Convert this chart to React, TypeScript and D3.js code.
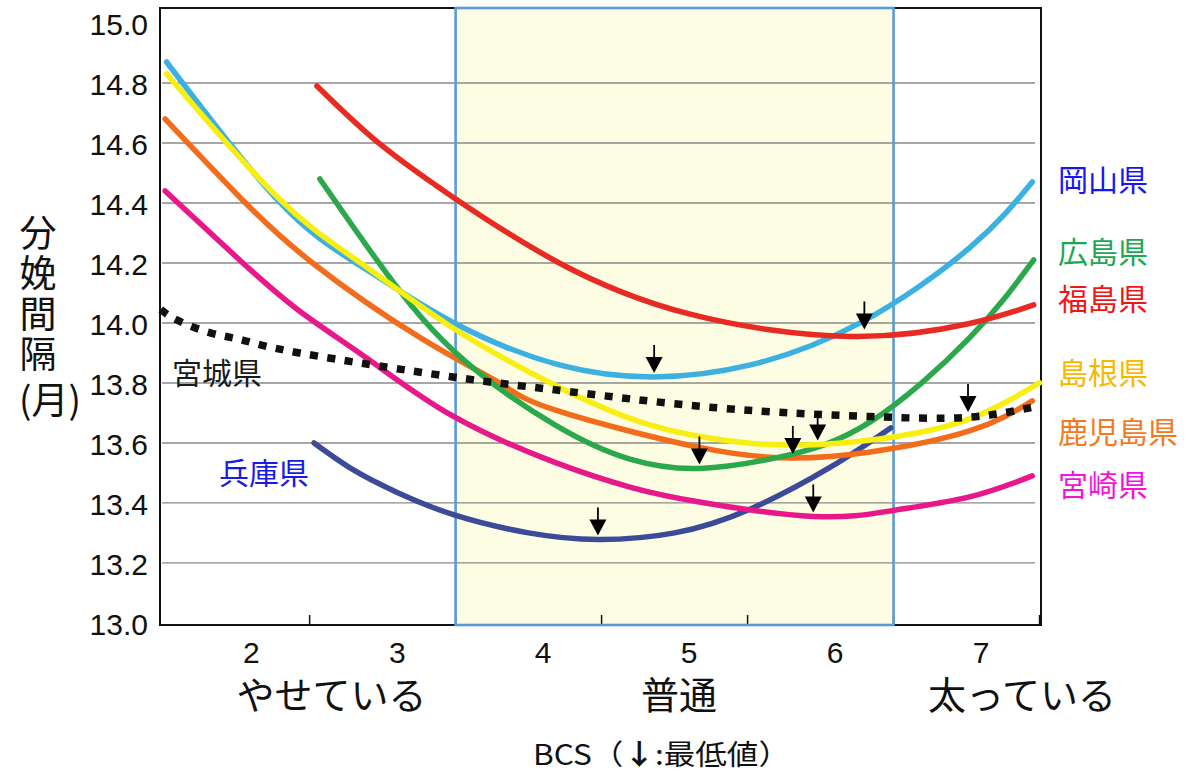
import React from "react";
import * as d3 from "d3";

// BCS vs calving interval (months)
const okayama = [[1.42, 14.87], [2.2, 14.4], [2.75, 14.19], [3.39, 14.0], [4.11, 13.86], [4.76, 13.82], [5.42, 13.86], [6.17, 14.0], [6.92, 14.25], [7.35, 14.47]];
const hiroshima = [[2.47, 14.48], [2.86, 14.21], [3.38, 13.91], [4.08, 13.66], [4.6, 13.545], [5.07, 13.515], [5.64, 13.555], [6.24, 13.67], [6.92, 13.95], [7.36, 14.21]];
const fukushima = [[2.45, 14.79], [2.86, 14.605], [3.38, 14.42], [4.11, 14.2], [5.0, 14.03], [6.1, 13.955], [6.92, 13.998], [7.36, 14.06]];
const shimane = [[1.42, 14.83], [2.2, 14.41], [2.75, 14.2], [3.36, 13.99], [4.05, 13.8], [4.73, 13.66], [5.4, 13.6], [5.9, 13.595], [6.4, 13.62], [6.92, 13.68], [7.4, 13.8]];
const kagoshima = [[1.41, 14.68], [1.92, 14.42], [2.42, 14.2], [3.16, 13.95], [3.7, 13.8], [4.08, 13.71], [5.07, 13.585], [5.71, 13.55], [6.24, 13.57], [6.92, 13.64], [7.35, 13.74]];
const miyazaki = [[1.41, 14.44], [1.92, 14.21], [2.33, 14.04], [2.8, 13.88], [3.38, 13.69], [4.08, 13.535], [4.6, 13.452], [5.07, 13.403], [5.85, 13.355], [6.4, 13.375], [6.92, 13.42], [7.35, 13.49]];
const hyogo = [[2.43, 13.6], [2.7, 13.51], [3.0, 13.435], [3.39, 13.36], [3.9, 13.3], [4.375, 13.278], [4.9, 13.3], [5.42, 13.38], [5.97, 13.52], [6.38, 13.65]];
const miyagi = [[1.38, 14.045], [1.49, 14.01], [1.72, 13.967], [1.94, 13.943], [2.33, 13.9], [3.38, 13.82], [4.08, 13.777], [5.19, 13.717], [6.24, 13.688], [6.9, 13.685], [7.36, 13.72]];

// arrow markers (lowest point of each curve)
const minima = [[4.76, 13.82], [6.2, 13.965], [5.07, 13.515], [5.71, 13.55], [5.88, 13.595], [5.85, 13.355], [4.375, 13.278], [6.91, 13.69]];

const bcsLabels = [2, 3, 4, 5, 6, 7];
const bcsTicks = [2.4, 3.4, 4.4, 5.4, 6.4, 7.4];
const yLabels = [13.0, 13.2, 13.4, 13.6, 13.8, 14.0, 14.2, 14.4, 14.6, 14.8, 15.0];
const gridValues = [13.2, 13.4, 13.6, 13.8, 14.0, 14.2, 14.4, 14.6, 14.8];
const normalRange = [3.4, 6.4];
const bodyTypes = ["やせている", "普通", "太っている"];

const W = 1198;
const H = 772;

const App = () => {
  const x = d3.scaleLinear().domain([1.375, 7.41]).range([160, 1041]);
  const y = d3.scaleLinear().domain([12.993, 15.05]).range([625, 8]);

  const line = d3
    .line<number[]>()
    .x((d) => x(d[0]))
    .y((d) => y(d[1]))
    .curve(d3.curveNatural);

  const curves = [
    { data: hyogo, color: "#3c4a9a" },
    { data: miyazaki, color: "#e8188a" },
    { data: kagoshima, color: "#f26c1c" },
    { data: hiroshima, color: "#2ca84c" },
    { data: okayama, color: "#3cb0e0" },
    { data: fukushima, color: "#e82a22" },
    { data: shimane, color: "#f8ee10" },
  ];

  const labels = [
    { text: "岡山県", x: 1058, y: 178, color: "#1515f5" },
    { text: "広島県", x: 1058, y: 250, color: "#19a94f" },
    { text: "福島県", x: 1058, y: 297, color: "#f01515" },
    { text: "島根県", x: 1058, y: 371, color: "#f6b800" },
    { text: "鹿児島県", x: 1058, y: 430, color: "#f47a1f" },
    { text: "宮崎県", x: 1058, y: 483, color: "#f511d9" },
    { text: "宮城県", x: 172, y: 371, color: "#1a1a1a" },
    { text: "兵庫県", x: 219, y: 471, color: "#1a1ae6" },
  ];

  const jp = "'Noto Sans CJK JP', sans-serif";
  const num = "'Liberation Sans', Arial, sans-serif";

  const top = y(15.05);
  const bottom = y(12.993);
  const left = x(1.375);
  const right = x(7.41);

  const bodyX = [x(2.55), x(4.93), x(7.28)];

  return (
    <div style={{ position: "absolute", left: 0, top: 0 }}>
      <svg width={W} height={H} style={{ display: "block", background: "#fff" }}>
        {/* normal BCS band */}
        <rect
          x={x(normalRange[0])}
          y={top}
          width={x(normalRange[1]) - x(normalRange[0])}
          height={bottom - top}
          fill="#fdfde4"
        />

        {gridValues.map((v) => (
          <line key={v} x1={left + 2} x2={right - 6} y1={y(v)} y2={y(v)} stroke="#8a8a8a" strokeWidth={1.4} />
        ))}

        {/* frame */}
        <rect x={left} y={top} width={right - left} height={bottom - top} fill="none" stroke="#111" strokeWidth={2} />
        {bcsTicks.map((t) => (
          <line key={t} x1={x(t)} x2={x(t)} y1={bottom} y2={bottom - 10} stroke="#111" strokeWidth={1.5} />
        ))}

        <rect
          x={x(normalRange[0])}
          y={top}
          width={x(normalRange[1]) - x(normalRange[0])}
          height={bottom - top}
          fill="none"
          stroke="#5b9bd5"
          strokeWidth={2.6}
        />

        {curves.map((c, i) => (
          <path key={i} d={line(c.data) || ""} fill="none" stroke={c.color} strokeWidth={5.5} strokeLinecap="round" />
        ))}
        <path d={line(miyagi) || ""} fill="none" stroke="#111" strokeWidth={7.5} strokeDasharray="8 9.5" />

        {minima.map((m, i) => {
          const cx = x(m[0]);
          const tip = y(m[1]) - 4;
          return (
            <g key={i}>
              <line x1={cx} x2={cx} y1={tip - 28} y2={tip - 14} stroke="#000" strokeWidth={1.8} />
              <path d={`M${cx - 8.5},${tip - 16}L${cx + 8.5},${tip - 16}L${cx},${tip}Z`} fill="#000" />
            </g>
          );
        })}

        {/* y tick labels */}
        {yLabels.map((v) => (
          <text key={v} x={148} y={y(v) + 12} textAnchor="end" fontFamily={num} fontSize={30} fill="#111">
            {v.toFixed(1)}
          </text>
        ))}

        {/* x tick labels */}
        {bcsLabels.map((v) => (
          <text key={v} x={x(v)} y={663} textAnchor="middle" fontFamily={num} fontSize={30} fill="#111">
            {v}
          </text>
        ))}

        {bodyTypes.map((t, i) => (
          <text key={t} x={bodyX[i]} y={709} textAnchor="middle" fontFamily={jp} fontSize={38} fill="#111">
            {t}
          </text>
        ))}

        <text x={533} y={765} fontFamily={jp} fontSize={28} fill="#111" textLength={257} lengthAdjust="spacingAndGlyphs">
          BCS（<tspan fontWeight="bold">↓</tspan>:最低値）
        </text>

        {/* y axis title */}
        {["分", "娩", "間", "隔"].map((c, i) => (
          <text key={c} x={38} y={[231, 271, 312, 352][i]} textAnchor="middle" dominantBaseline="central" fontFamily={jp} fontSize={37} fill="#111">
            {c}
          </text>
        ))}
        <text x={50} y={398} textAnchor="middle" dominantBaseline="central" fontFamily={jp} fontSize={37} fill="#111">
          (月)
        </text>

        {labels.map((l) => (
          <text key={l.text} x={l.x} y={l.y} dominantBaseline="central" fontFamily={jp} fontSize={30} fill={l.color}>
            {l.text}
          </text>
        ))}
      </svg>
    </div>
  );
};

export default App;
